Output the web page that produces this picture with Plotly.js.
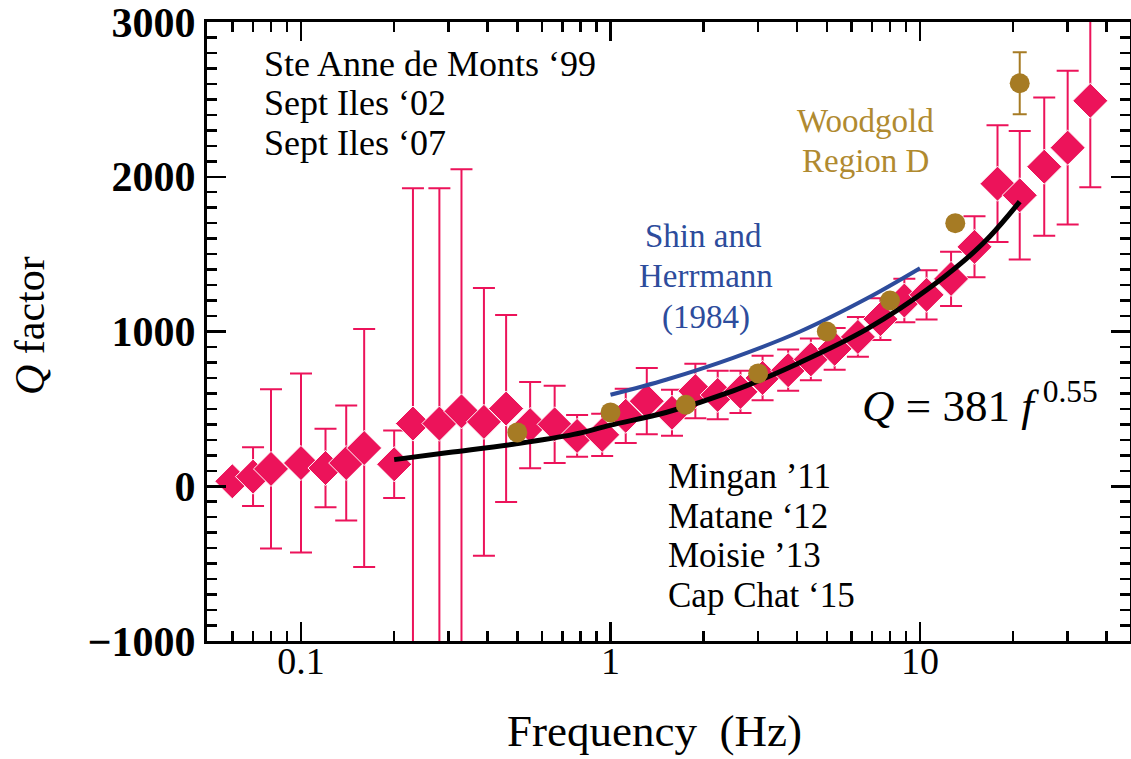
<!DOCTYPE html>
<html>
<head>
<meta charset="utf-8">
<script src="https://cdn.plot.ly/plotly-3.0.1.min.js"></script>
<style>html,body{margin:0;padding:0;background:#fff;}#chart{width:1131px;height:759px;}</style>
</head>
<body>
<div id="chart"></div>
<script>
// Pink diamonds: Q factor with error bars
const pinkFreq = [0.06, 0.07, 0.08, 0.10, 0.12, 0.14, 0.16, 0.20, 0.23, 0.28, 0.33, 0.39, 0.46, 0.55, 0.66, 0.78, 0.94, 1.12, 1.31, 1.58, 1.88, 2.22, 2.63, 3.1, 3.75, 4.44, 5.3, 6.3, 7.45, 8.9, 10.5, 12.6, 15.0, 17.8, 21.0, 25.2, 30.0, 35.5];
const pinkQ    = [32, 62, 112, 150, 118, 150, 247, 142, 405, 405, 484, 416, 502, 395, 400, 325, 332, 455, 550, 475, 615, 590, 610, 700, 750, 820, 888, 965, 1080, 1200, 1237, 1340, 1547, 1955, 1880, 2065, 2188, 2491];
const pinkErr  = [0, 190, 515, 578, 254, 372, 769, 218, 1521, 1521, 1564, 865, 604, 278, 250, 135, 137, 175, 214, 148, 176, 157, 137, 144, 133, 135, 135, 128, 135, 141, 159, 176, 197, 377, 415, 447, 497, 559];

// Gold circles: Woodgold Region D
const goldFreq = [0.5, 1.0, 1.75, 3.0, 5.0, 8.0, 13.0, 21.0];
const goldQ    = [348, 477, 527, 729, 1000, 1200, 1700, 2604];
const goldErr  = [0, 0, 0, 0, 0, 0, 0, 200];

// Blue curve: Shin and Herrmann (1984)
const blueFreq = [1.0, 1.52, 2.49, 4.1, 6.73, 10.0];
const blueQ    = [591, 690, 830, 1000, 1213, 1409];

// Black curve: fit Q = 381 f^0.55 (as drawn)
const fitFreq = [0.2, 0.3, 0.49, 0.76, 1.0, 1.52, 2.49, 4.1, 6.73, 11.05, 16.0, 21.0];
const fitQ    = [172, 218, 273, 335, 395, 478, 616, 800, 1015, 1300, 1570, 1839];

// Tick labels
const xTickVals = [0.1, 1, 10];
const xTickText = ['0.1', '1', '10'];

const PINK = '#EC135A', GOLD = '#A67B24', BLUE = '#2D4C9C';
const SERIF = '"Liberation Serif", "Times New Roman", serif';

const traces = [
  {
    x: pinkFreq, y: pinkQ, type: 'scatter', mode: 'markers',
    marker: {symbol: 'diamond', size: 27, color: PINK, line: {color: '#ffffff', width: 1}},
    error_y: {type: 'data', array: pinkErr, symmetric: true, color: PINK, thickness: 2, width: 11},
    showlegend: false
  },
  {
    x: blueFreq, y: blueQ, type: 'scatter', mode: 'lines',
    line: {color: BLUE, width: 4, shape: 'spline'}, showlegend: false
  },
  {
    x: fitFreq, y: fitQ, type: 'scatter', mode: 'lines',
    line: {color: '#000000', width: 5, shape: 'spline'}, showlegend: false
  },
  {
    x: goldFreq, y: goldQ, type: 'scatter', mode: 'markers',
    marker: {symbol: 'circle', size: 20, color: GOLD},
    error_y: {type: 'data', array: goldErr, symmetric: true, color: GOLD, thickness: 2, width: 7},
    showlegend: false
  }
];

const L = 207, R = 1130, T = 22, B = 641;
function px(xp) { return (xp - L) / (R - L); }
function py(yp) { return (B - yp) / (B - T); }

function ann(text, xp, yp, color, size, anchor, angle) {
  return {text: text, xref: 'paper', yref: 'paper', x: px(xp), y: py(yp),
    xanchor: anchor || 'left', yanchor: 'middle', showarrow: false,
    textangle: angle || 0,
    font: {family: SERIF, size: size, color: color}};
}

const annotations = [
  ann('Ste Anne de Monts \u201899', 262, 64, '#000', 36),
  ann('Sept Iles \u201802', 262, 103, '#000', 36),
  ann('Sept Iles \u201807', 262, 143, '#000', 36),
  ann('Mingan \u201911', 666, 476, '#000', 35),
  ann('Matane \u201812', 666, 516, '#000', 35),
  ann('Moisie \u201913', 666, 555, '#000', 35),
  ann('Cap Chat \u201815', 666, 595, '#000', 35),
  ann('Woodgold', 865, 121, '#B08A30', 33, 'center'),
  ann('Region D', 865, 161, '#B08A30', 33, 'center'),
  ann('Shin and', 703, 236, BLUE, 33, 'center'),
  ann('Herrmann', 706, 276, BLUE, 33, 'center'),
  ann('(1984)', 706, 317, BLUE, 33, 'center'),
  ann('<i>Q</i> = 381 <i>f</i>\u2009<sup>0.55</sup>', 860, 402, '#000', 45),
  // axis titles
  ann('Frequency\u00a0\u00a0(Hz)', 654, 731, '#000', 45, 'center'),
  ann('<i>Q</i> factor', 30, 326, '#000', 42, 'center', -90)
];

const axisCommon = {
  showline: true, linecolor: '#000', linewidth: 3, mirror: 'allticks',
  ticks: 'inside', ticklen: 19, tickwidth: 2.5, tickcolor: '#000',
  showgrid: false, zeroline: false, ticklabeloverflow: 'allow'
};

const layout = {
  width: 1131, height: 759,
  margin: {l: L, r: 1131 - R, t: T, b: 759 - B},
  paper_bgcolor: '#ffffff', plot_bgcolor: '#ffffff',
  showlegend: false,
  xaxis: Object.assign({}, axisCommon, {
    type: 'log', range: [-1.3037, 1.6785],
    tickmode: 'array', tickvals: xTickVals, ticktext: xTickText,
    tickfont: {family: SERIF, size: 38, color: '#000'},
    ticklabelstandoff: -16,
    minor: {ticks: 'inside', ticklen: 10, tickwidth: 2.5, tickcolor: '#000', dtick: 'D1', showgrid: false}
  }),
  yaxis: Object.assign({}, axisCommon, {
    range: [-1000, 3000], dtick: 1000, tick0: 0,
    tickfont: {family: SERIF, size: 42, color: '#000', weight: 'bold'},
    minor: {ticks: 'inside', ticklen: 10, tickwidth: 2.5, tickcolor: '#000', dtick: 100, showgrid: false}
  }),
  annotations: annotations
};

Plotly.newPlot('chart', traces, layout, {staticPlot: true, displayModeBar: false});
</script>
</body>
</html>
